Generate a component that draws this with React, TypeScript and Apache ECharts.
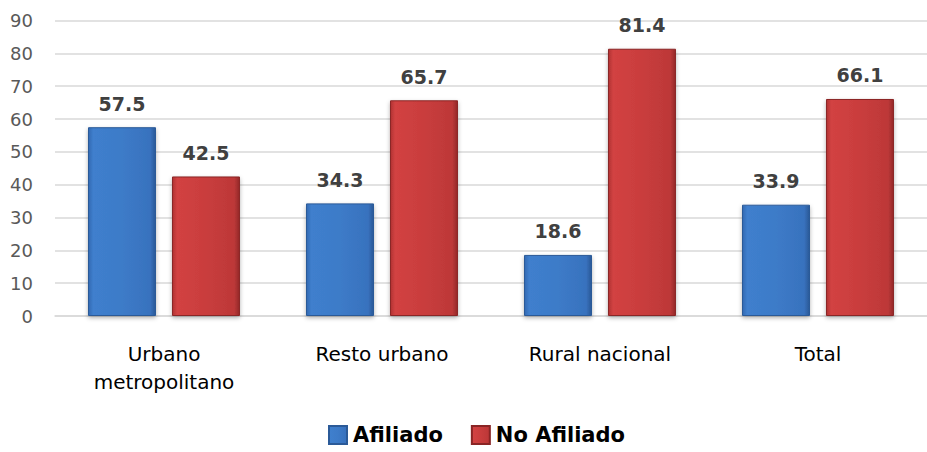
import React, { useEffect, useRef } from "react";
import * as echarts from "echarts";

const categories = ["Urbano\nmetropolitano", "Resto urbano", "Rural nacional", "Total"];
const afiliado = [57.5, 34.3, 18.6, 33.9];
const noAfiliado = [42.5, 65.7, 81.4, 66.1];
const seriesNames = ["Afiliado", "No Afiliado"];

const blueFill = new echarts.graphic.LinearGradient(0, 0, 1, 0, [
  { offset: 0, color: "#3169b2" },
  { offset: 0.07, color: "#3f7fcd" },
  { offset: 0.5, color: "#3d7bc8" },
  { offset: 0.92, color: "#3872be" },
  { offset: 1, color: "#2a5896" },
]);
const redFill = new echarts.graphic.LinearGradient(0, 0, 1, 0, [
  { offset: 0, color: "#b13333" },
  { offset: 0.07, color: "#d24242" },
  { offset: 0.5, color: "#c93d3d" },
  { offset: 0.92, color: "#bd3838" },
  { offset: 1, color: "#932828" },
]);

export default function App() {
  const ref = useRef<HTMLDivElement>(null);
  useEffect(() => {
    if (!ref.current) return;
    const chart = echarts.init(ref.current, null, { renderer: "svg" });
    const labelStyle = {
      show: true,
      position: "top" as const,
      distance: 14,
      color: "#404040",
      fontFamily: "DejaVu Sans",
      fontWeight: "bold" as const,
      fontSize: 19,
      formatter: (p: any) => p.value.toFixed(1),
    };
    chart.setOption({
      animation: false,
      backgroundColor: "#ffffff",
      grid: { left: 55, top: 20.5, width: 880, height: 295.5 },
      legend: {
        data: seriesNames,
        left: 328,
        top: 424,
        padding: 0,
        icon: "rect",
        itemWidth: 18,
        itemHeight: 18,
        itemGap: 28,
        textStyle: {
          fontFamily: "DejaVu Sans",
          fontWeight: "bold",
          fontSize: 21,
          lineHeight: 22,
          color: "#000000",
          padding: [0, 0, 0, 1],
        },
      },
      xAxis: {
        type: "category",
        data: categories,
        axisLine: { show: true, lineStyle: { color: "#d9d9d9", width: 1.5 } },
        axisTick: { show: false },
        axisLabel: {
          color: "#000000",
          fontFamily: "DejaVu Sans",
          fontSize: 20,
          lineHeight: 28,
          margin: 24,
          interval: 0,
        },
      },
      yAxis: {
        type: "value",
        min: 0,
        max: 90,
        interval: 10,
        axisLine: { show: false },
        axisTick: { show: false },
        splitLine: { lineStyle: { color: "#d9d9d9", width: 1.5 } },
        axisLabel: {
          color: "#595959",
          fontFamily: "DejaVu Sans",
          fontSize: 18,
          margin: 22,
        },
      },
      series: [
        {
          name: seriesNames[0],
          type: "bar",
          data: afiliado,
          barWidth: 68,
          barGap: "23.5%",
          itemStyle: {
            color: blueFill,
            borderColor: "#2b5a98",
            borderWidth: 1,
            shadowColor: "rgba(0,0,0,0.3)",
            shadowBlur: 4,
            shadowOffsetY: 2,
          },
          label: labelStyle,
        },
        {
          name: seriesNames[1],
          type: "bar",
          data: noAfiliado,
          barWidth: 68,
          barGap: "23.5%",
          itemStyle: {
            color: redFill,
            borderColor: "#8a2525",
            borderWidth: 1,
            shadowColor: "rgba(0,0,0,0.3)",
            shadowBlur: 4,
            shadowOffsetY: 2,
          },
          label: labelStyle,
        },
      ],
    });
    return () => chart.dispose();
  }, []);
  return <div ref={ref} style={{ width: 927, height: 452, position: "absolute", left: 0, top: 0 }} />;
}
